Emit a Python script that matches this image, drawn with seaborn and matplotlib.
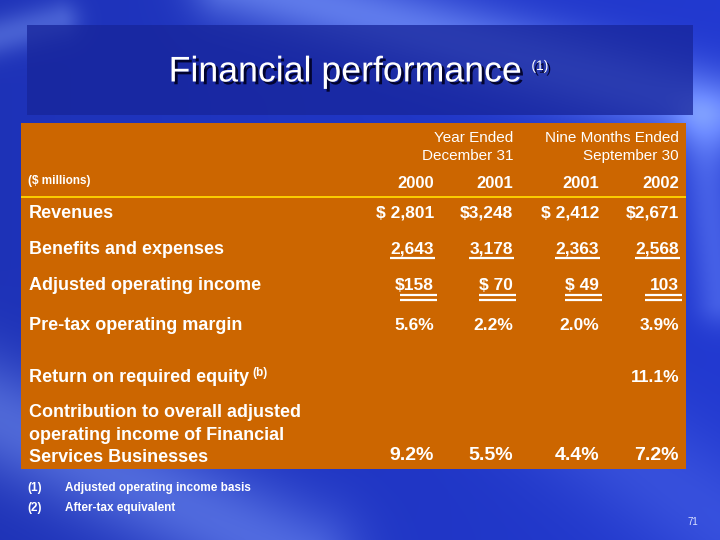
import numpy as np
import matplotlib
matplotlib.use('Agg')
import matplotlib.pyplot as plt
import matplotlib.patheffects as pe
from matplotlib.patches import Rectangle
import seaborn as sns

sns.set_theme(style='white')
plt.rcParams['font.family'] = ['Liberation Sans', 'DejaVu Sans']

# --- table content -------------------------------------------------------
title = 'Financial performance'
title_note = '(1)'
group_labels = ['Year Ended\nDecember 31', 'Nine Months Ended\nSeptember 30']
years = ['2000', '2001', '2001', '2002']
unit_label = '($ millions)'
row_labels = ['Revenues', 'Benefits and expenses', 'Adjusted operating income',
              'Pre-tax operating margin', 'Return on required equity',
              'Contribution to overall adjusted\noperating income of Financial\nServices Businesses']
revenues = ['$ 2,801', '$3,248', '$ 2,412', '$2,671']
benefits = ['2,643', '3,178', '2,363', '2,568']
adj_income = ['$158', '$ 70', '$ 49', '103']
pretax_margin = ['5.6%', '2.2%', '2.0%', '3.9%']
return_equity = ['', '', '', '11.1%']
contribution = ['9.2%', '5.5%', '4.4%', '7.2%']
footnotes = [('(1)', 'Adjusted operating income basis'), ('(2)', 'After-tax equivalent')]
page_no = '71'

# --- layout (pixel space of the slide) -----------------------------------
col_right = [434, 513, 599, 679]
row_y = [213, 249, 285, 326, 378, 435]
ORANGE = '#CC6600'

fig = plt.figure(figsize=(7.2, 5.4), dpi=100)
ax = fig.add_axes([0, 0, 1, 1])
ax.set_xlim(0, 720)
ax.set_ylim(540, 0)
ax.axis('off')


def band(px, py, p0, p1, width):
    """soft light streak along the segment p0 -> p1"""
    (x0, y0), (x1, y1) = p0, p1
    dx, dy = x1 - x0, y1 - y0
    t = np.clip(((px - x0) * dx + (py - y0) * dy) / (dx * dx + dy * dy), 0, 1)
    d2 = (px - x0 - t * dx) ** 2 + (py - y0 - t * dy) ** 2
    return np.exp(-d2 / (2 * width ** 2))


# blue swoosh background
py, px = np.mgrid[0:540, 0:720].astype(float)
base = np.array([0.13, 0.22, 0.80])
shade = 0.9 + 0.12 * (px / 720)
glow = (0.45 * band(px, py, (230, -20), (720, 110), 28)
        + 0.30 * band(px, py, (-20, 40), (60, 20), 14)
        + 0.35 * band(px, py, (-40, 400), (300, 560), 40)
        + 0.25 * band(px, py, (700, 120), (720, 300), 18)
        + 0.15 * band(px, py, (520, 380), (720, 520), 45))
bg = np.clip(base[None, None, :] * shade[..., None]
             + glow[..., None] * np.array([0.55, 0.60, 0.35]), 0, 1)
ax.imshow(bg, extent=(0, 720, 540, 0), aspect='auto', zorder=0)

# title box
ax.add_patch(Rectangle((27, 25), 666, 90, color='#17259a', alpha=0.75, zorder=1, lw=0))
shadow = [pe.withSimplePatchShadow(offset=(2, -2), shadow_rgbFace='#000022', alpha=0.9)]
t = ax.text(345, 72, title, color='white', fontsize=25.7, ha='center', va='center',
            zorder=3, path_effects=shadow)
fig.canvas.draw()
bb = t.get_window_extent().transformed(ax.transData.inverted())
ax.text(bb.x1 + 10, 66, title_note, color='white', fontsize=10, ha='left', va='center',
        zorder=3, path_effects=shadow)

# orange table
ax.add_patch(Rectangle((21, 123), 665, 346, color=ORANGE, zorder=1, lw=0))
ax.hlines(197, 21, 686, color='#FFD700', lw=1.3, zorder=2)

txt = dict(color='white', zorder=3)
for label, right in zip(group_labels, [col_right[1], col_right[3]]):
    ax.text(right, 147, label, fontsize=11, ha='right', va='center', linespacing=1.35, **txt)
ax.text(28, 181, unit_label, fontsize=8.5, fontweight='bold', ha='left', va='center', **txt)
for yr, right in zip(years, col_right):
    ax.text(right, 184, yr, fontsize=12, fontweight='bold', ha='right', va='center', **txt)

# row labels
for i, label in enumerate(row_labels):
    r = ax.text(29, row_y[i], label, fontsize=13, fontweight='bold', ha='left',
                va='center', linespacing=1.44, **txt)
    if i == 4:
        fig.canvas.draw()
        rb = r.get_window_extent().transformed(ax.transData.inverted())
        ax.text(rb.x1 + 3, row_y[i] - 5, '(b)', fontsize=8.5, fontweight='bold',
                ha='left', va='center', **txt)

# values
value_rows = [revenues, benefits, adj_income, pretax_margin, return_equity]
for i, vals in enumerate(value_rows):
    for v, right in zip(vals, col_right):
        ax.text(right, row_y[i], v, fontsize=12.5, fontweight='bold', ha='right', va='center', **txt)
for v, right in zip(contribution, col_right):
    ax.text(right, 456, v, fontsize=14, fontweight='bold', ha='right', va='center', **txt)

# single underline under expenses, double under operating income
for right in col_right:
    ax.hlines(258, right - 44, right + 1, color='white', lw=1.6, zorder=3)
    ax.hlines([295, 300], right - 34, right + 3, color='white', lw=1.6, zorder=3)

# footnotes and page number
for k, (mark, note) in enumerate(footnotes):
    ax.text(27, 488 + 20 * k, mark, fontsize=8.5, fontweight='bold', color='white',
            ha='left', va='center', zorder=3)
    ax.text(65, 488 + 20 * k, note, fontsize=8.5, fontweight='bold', color='white',
            ha='left', va='center', zorder=3)
ax.text(698, 522, page_no, fontsize=7, color='#dde3ff', ha='right', va='center', zorder=3)

fig.savefig('out.png', dpi=100)
